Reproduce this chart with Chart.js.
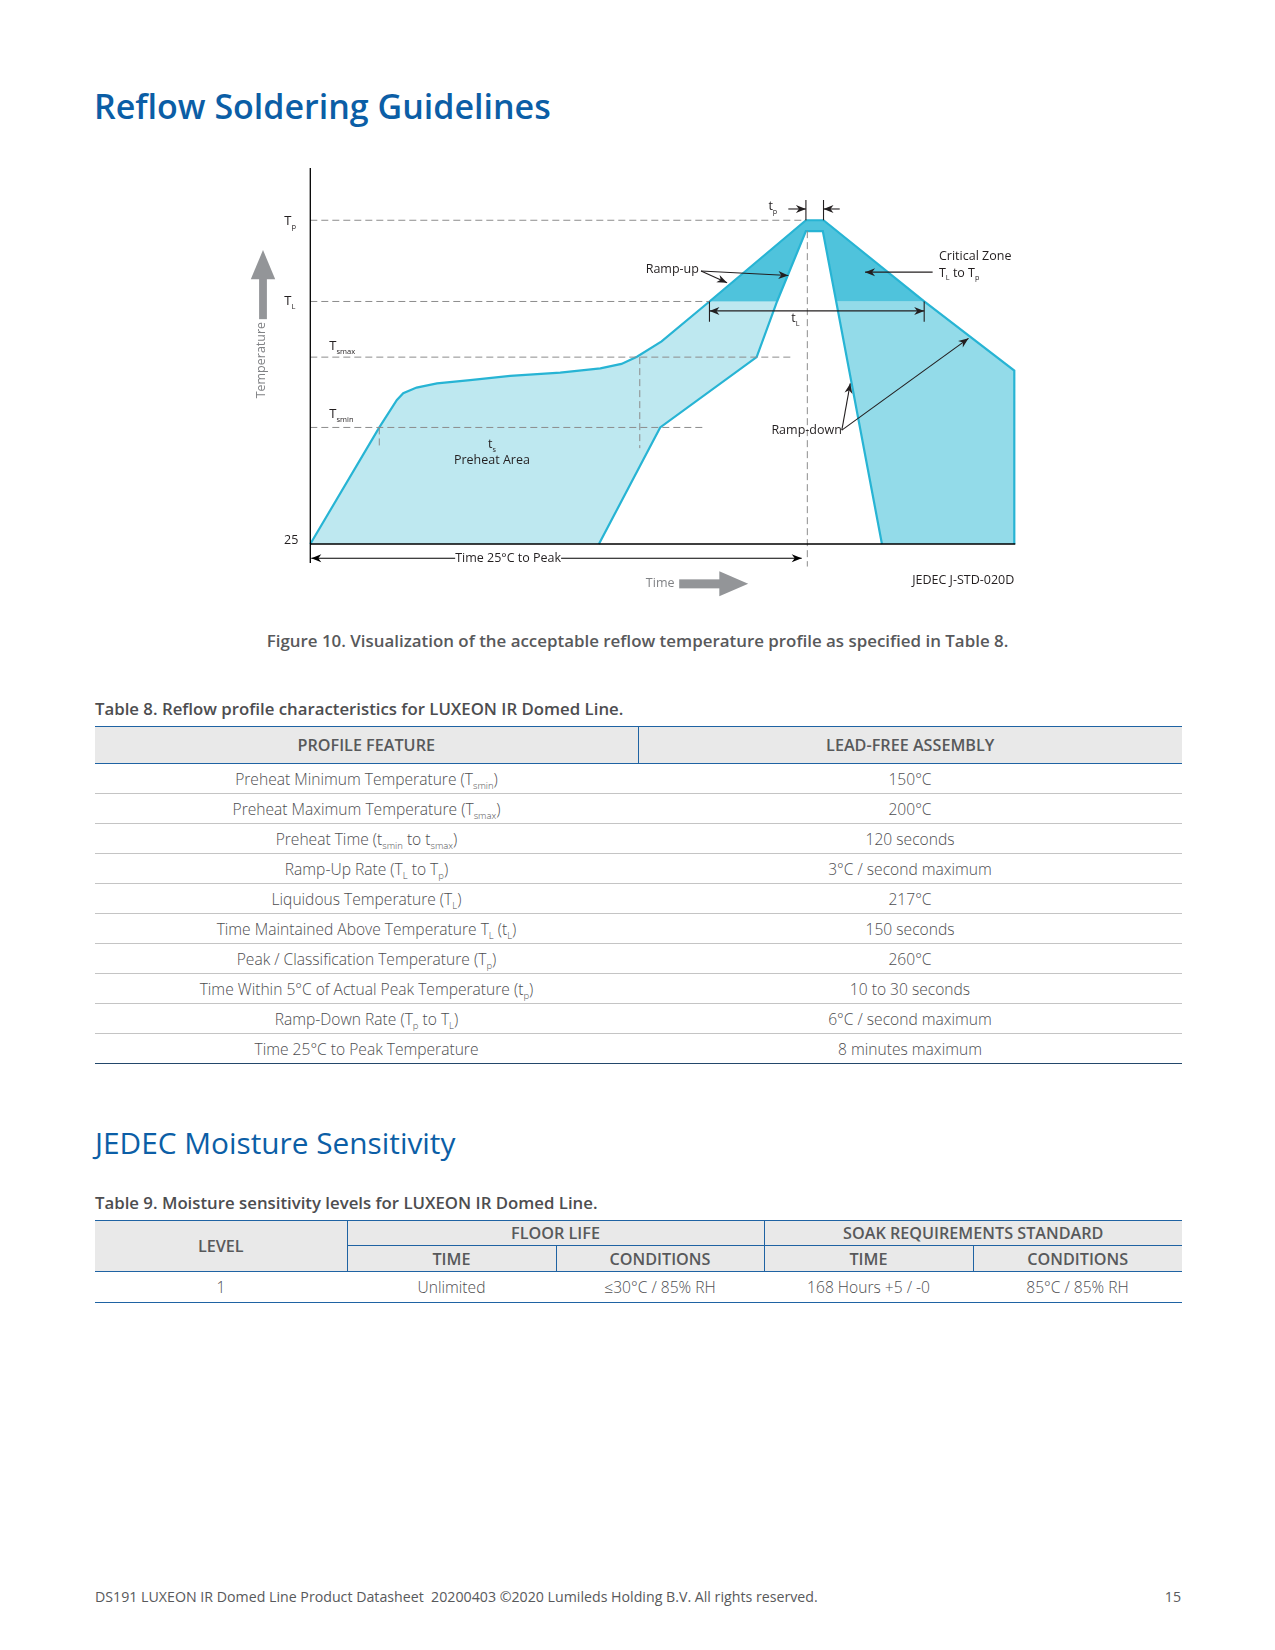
<!DOCTYPE html>
<html>
<head>
<meta charset="utf-8">
<script src="https://cdn.jsdelivr.net/npm/chart.js@4.4.1/dist/chart.umd.min.js"></script>
<style>
  body { margin: 0; background: #fff; font-family: "Open Sans", sans-serif; }
  .page { position: relative; width: 1275px; height: 1650px; overflow: hidden; }
  .t { position: absolute; white-space: nowrap; line-height: 1; margin: 0; }
  h1.t { left: 94px; top: 89px; font-size: 34px; font-weight: 600; color: #0b5ea6; }
  h2.t { left: 95px; top: 1128px; font-size: 29.8px; font-weight: 400; color: #0b5ea6; }
  .cap { font-size: 16.9px; font-weight: 600; color: #58595b; }
  .ttl { font-size: 16.8px; font-weight: 600; color: #4d4d4f; }
  .foot { font-size: 14.2px; color: #58595b; }
  #chartWrap { position: absolute; left: 240px; top: 150px; width: 800px; height: 470px; }
  table.tbl { position: absolute; border-collapse: collapse; table-layout: fixed; font-family: "Open Sans", sans-serif; }
  .tbl th { background: #e9e9e9; color: #58595b; font-weight: 600; font-size: 16.2px; padding: 0; text-align: center; }
  .tbl td { color: #4d4d4f; font-weight: 300; font-size: 15.6px; padding: 0; text-align: center; }
  .tbl sub { font-size: 9.5px; vertical-align: -4px; line-height: 0; }
  #t8 th { height: 36px; border-top: 1.5px solid #1f63a3; border-bottom: 1.5px solid #1f63a3; }
  #t8 th + th { border-left: 1px solid #1f63a3; }
  #t8 td { height: 29px; border-bottom: 1px solid #c4c4c4; }
  #t8 tr:last-child td { border-bottom: 1.5px solid #23486b; }
  #t9 th { border-top: 1.5px solid #1f63a3; border-bottom: 1.5px solid #1f63a3; }
  #t9 .r1 th { height: 24px; }
  #t9 .r2 th { height: 25px; }
  #t9 .vl { border-left: 1px solid #1f63a3; }
  #t9 td { height: 30px; border-bottom: 1.5px solid #1f63a3; }
</style>
</head>
<body>
<div class="page">
  <h1 class="t">Reflow Soldering Guidelines</h1>

  <div id="chartWrap"><canvas id="reflowChart" width="800" height="470"></canvas></div>

  <div class="t cap" style="left:0; width:1275px; text-align:center; top:633px;">Figure 10. Visualization of the acceptable reflow temperature profile as specified in Table 8.</div>

  <div class="t ttl" style="left:95px; top:701px;">Table 8. Reflow profile characteristics for LUXEON IR Domed Line.</div>
  <table id="t8" class="tbl" style="left:95px; top:726px; width:1087px;">
    <colgroup><col style="width:543px"><col style="width:544px"></colgroup>
    <tr><th>PROFILE FEATURE</th><th>LEAD-FREE ASSEMBLY</th></tr>
    <tr><td>Preheat Minimum Temperature (T<sub>smin</sub>)</td><td>150°C</td></tr>
    <tr><td>Preheat Maximum Temperature (T<sub>smax</sub>)</td><td>200°C</td></tr>
    <tr><td>Preheat Time (t<sub>smin</sub> to t<sub>smax</sub>)</td><td>120 seconds</td></tr>
    <tr><td>Ramp-Up Rate (T<sub>L</sub> to T<sub>p</sub>)</td><td>3°C / second maximum</td></tr>
    <tr><td>Liquidous Temperature (T<sub>L</sub>)</td><td>217°C</td></tr>
    <tr><td>Time Maintained Above Temperature T<sub>L</sub> (t<sub>L</sub>)</td><td>150 seconds</td></tr>
    <tr><td>Peak / Classification Temperature (T<sub>p</sub>)</td><td>260°C</td></tr>
    <tr><td>Time Within 5°C of Actual Peak Temperature (t<sub>p</sub>)</td><td>10 to 30 seconds</td></tr>
    <tr><td>Ramp-Down Rate (T<sub>p</sub> to T<sub>L</sub>)</td><td>6°C / second maximum</td></tr>
    <tr><td>Time 25°C to Peak Temperature</td><td>8 minutes maximum</td></tr>
  </table>

  <h2 class="t">JEDEC Moisture Sensitivity</h2>

  <div class="t ttl" style="left:95px; top:1195px;">Table 9. Moisture sensitivity levels for LUXEON IR Domed Line.</div>
  <table id="t9" class="tbl" style="left:95px; top:1220px; width:1087px;">
    <colgroup><col style="width:252px"><col style="width:209px"><col style="width:208px"><col style="width:209px"><col style="width:209px"></colgroup>
    <tr class="r1"><th rowspan="2">LEVEL</th><th colspan="2" class="vl">FLOOR LIFE</th><th colspan="2" class="vl">SOAK REQUIREMENTS STANDARD</th></tr>
    <tr class="r2"><th class="vl">TIME</th><th class="vl">CONDITIONS</th><th class="vl">TIME</th><th class="vl">CONDITIONS</th></tr>
    <tr><td>1</td><td>Unlimited</td><td>≤30°C / 85% RH</td><td>168 Hours +5 / -0</td><td>85°C / 85% RH</td></tr>
  </table>

  <div class="t foot" style="left:95px; top:1590px;">DS191 LUXEON IR Domed Line Product Datasheet&nbsp; 20200403 ©2020 Lumileds Holding B.V. All rights reserved.</div>
  <div class="t foot" style="left:1100px; width:81px; text-align:right; top:1590px;">15</div>
</div>

<script>
// schematic units: time 0-100 across the axis, temperature 0-100 up the axis (25°C at 0)
const levelNames = ['p', 'L', 'smax', 'smin'];
const levelTemps = [86.1, 64.5, 49.7, 31.0];
const levelEnds = [70.4, 56.7, 68.4, 55.8];

// outer edge of the profile window (upper ramp + peak + lower ramp down)
const outerTime = [0, 9.8, 12.3, 13.2, 15.1, 18.0, 22.7, 28.4, 35.5, 41.2, 44.2, 46.4, 49.9, 56.7, 70.4, 72.9, 87.2, 100, 100];
const outerTemp = [0, 31.0, 38.3, 40.1, 41.6, 42.7, 43.6, 44.7, 45.6, 46.7, 47.9, 49.8, 53.9, 64.5, 86.1, 86.1, 64.5, 46.1, 0];

// inner edge of the profile window
const innerTime = [41.0, 49.7, 63.4, 66.3, 70.4, 72.8, 74.7, 81.2];
const innerTemp = [0, 31.0, 49.7, 64.5, 83.2, 83.2, 64.5, 0];

// dashed markers dropped from the curve
const markTime = [9.8, 46.8, 70.6];
const markTop = [31.0, 49.7, 83.2];
const markBottom = [25.5, 25.5, -6.0];

const TL = levelTemps[1];
const pts = (xs, ys) => xs.map((x, i) => ({x: x, y: ys[i]}));
const outer = pts(outerTime, outerTemp);
const inner = pts(innerTime, innerTemp);
const oUp = outer.findIndex(p => p.y === TL);
const oDown = outer.findIndex((p, i) => i > oUp && p.y === TL);
const iUp = inner.findIndex(p => p.y === TL);
const iDown = inner.findIndex((p, i) => i > iUp && p.y === TL);

const lightZone = outer.slice(0, oUp + 1).concat(inner.slice(0, iUp + 1).reverse());
const darkZone = outer.slice(oUp, oDown + 1).concat(inner.slice(iUp, iDown + 1).reverse());
const coolZone = outer.slice(oDown).concat(inner.slice(iDown).reverse());

const CYAN = '#27b4d4';
const DASH = '#8c8c8c';

const guides = levelTemps.map((t, i) => ({
  data: [{x: 0, y: t}, {x: levelEnds[i], y: t}],
  borderColor: DASH, borderWidth: 1, borderDash: [7, 4], fill: false
})).concat(markTime.map((m, i) => ({
  data: [{x: m, y: markTop[i]}, {x: m, y: markBottom[i]}],
  borderColor: DASH, borderWidth: 1, borderDash: [7, 4], fill: false
})));

const datasets = guides.concat([
  {data: outer, borderColor: CYAN, borderWidth: 2.2, fill: false},
  {data: inner, borderColor: CYAN, borderWidth: 2.2, fill: false},
  {data: darkZone, borderWidth: 0, backgroundColor: '#4fc3dc', fill: 'shape'},
  {data: lightZone, borderWidth: 0, backgroundColor: '#bee8f0', fill: 'shape'},
  {data: coolZone, borderWidth: 0, backgroundColor: '#93dbe9', fill: 'shape'}
]).map(d => Object.assign({showLine: true, pointRadius: 0, tension: 0, clip: false}, d));

function arrowHead(ctx, x1, y1, x2, y2) {
  const a = Math.atan2(y2 - y1, x2 - x1);
  const L = 10, W = 4;
  const c = Math.cos(a), s = Math.sin(a);
  ctx.beginPath();
  ctx.moveTo(x2, y2);
  ctx.lineTo(x2 - L * c + W * s, y2 - L * s - W * c);
  ctx.lineTo(x2 - 0.7 * L * c, y2 - 0.7 * L * s);
  ctx.lineTo(x2 - L * c - W * s, y2 - L * s + W * c);
  ctx.closePath();
  ctx.fill();
}
function arrow(ctx, x1, y1, x2, y2, both) {
  ctx.beginPath(); ctx.moveTo(x1, y1); ctx.lineTo(x2, y2); ctx.stroke();
  arrowHead(ctx, x1, y1, x2, y2);
  if (both) arrowHead(ctx, x2, y2, x1, y1);
}
function subWidth(ctx, parts, size) {
  let w = 0;
  parts.forEach(p => { ctx.font = (p[1] ? size * 0.58 : size) + 'px "Open Sans"'; w += ctx.measureText(p[0]).width; });
  return w;
}
// parts: [[text, isSub], ...]; x is left edge, y is baseline
function subText(ctx, parts, x, y, size, align) {
  let cx = align === 'center' ? x - subWidth(ctx, parts, size) / 2 : x;
  ctx.textBaseline = 'alphabetic'; ctx.textAlign = 'left';
  parts.forEach(p => {
    ctx.font = (p[1] ? size * 0.58 : size) + 'px "Open Sans"';
    ctx.fillText(p[0], cx, p[1] ? y + size * 0.3 : y);
    cx += ctx.measureText(p[0]).width;
  });
}

const annotations = {
  id: 'annotations',
  afterDatasetsDraw(chart) {
    const {ctx, scales: {x, y}} = chart;
    const X = v => x.getPixelForValue(v), Y = v => y.getPixelForValue(v);
    const FS = 12.5;
    ctx.save();
    ctx.strokeStyle = '#000'; ctx.fillStyle = '#231f20'; ctx.lineWidth = 1.3;

    // axes
    ctx.beginPath();
    ctx.moveTo(X(0), Y(100)); ctx.lineTo(X(0), Y(0) + 19);
    ctx.moveTo(X(0), Y(0)); ctx.lineTo(X(100) + 1, Y(0));
    ctx.stroke();

    // y labels
    ctx.fillStyle = '#231f20';
    const lx = [X(0) - 26, X(0) - 26, X(0) + 19, X(0) + 19];
    const ly = [5, 4, -7, -9];
    levelNames.forEach((n, i) => subText(ctx, [['T', 0], [n, 1]], lx[i], Y(levelTemps[i]) + ly[i], 13));
    ctx.font = FS + 'px "Open Sans"'; ctx.textAlign = 'right'; ctx.textBaseline = 'alphabetic';
    ctx.fillText('25', X(0) - 12, Y(0));

    ctx.lineWidth = 1.1;
    ctx.strokeStyle = '#231f20';
    // t_p marker
    ctx.beginPath();
    ctx.moveTo(X(70.4), Y(86.1)); ctx.lineTo(X(70.4), Y(91.5));
    ctx.moveTo(X(72.9), Y(86.1)); ctx.lineTo(X(72.9), Y(91.5));
    ctx.stroke();
    arrow(ctx, X(67.9), Y(89.1), X(70.4), Y(89.1));
    arrow(ctx, X(75.2), Y(89.1), X(72.9), Y(89.1));
    subText(ctx, [['t', 0], ['p', 1]], X(65.7), Y(89.9) + 4.5, FS, 'center');

    // t_L marker
    ctx.beginPath();
    ctx.moveTo(X(56.7), Y(64.5)); ctx.lineTo(X(56.7), Y(59.1));
    ctx.moveTo(X(87.2), Y(64.5)); ctx.lineTo(X(87.2), Y(59.1));
    ctx.stroke();
    arrow(ctx, X(56.7), Y(62.0), X(87.2), Y(62.0), true);
    subText(ctx, [['t', 0], ['L', 1]], X(68.9), Y(60.2) + 4.5, FS, 'center');

    // ramp-up
    ctx.font = FS + 'px "Open Sans"'; ctx.textBaseline = 'middle'; ctx.textAlign = 'right';
    ctx.fillText('Ramp-up', X(55.2), Y(73.1));
    arrow(ctx, X(55.5), Y(72.6), X(59.2), Y(69.5));
    arrow(ctx, X(55.5), Y(72.6), X(67.9), Y(71.4));

    // critical zone
    ctx.textAlign = 'left';
    ctx.fillText('Critical Zone', X(89.3), Y(76.4));
    subText(ctx, [['T', 0], ['L', 1], [' to T', 0], ['p', 1]], X(89.3), Y(72.3) + 4.5, FS);
    arrow(ctx, X(88.4), Y(72.3), X(78.8), Y(72.3));

    // ramp-down
    ctx.font = FS + 'px "Open Sans"'; ctx.textBaseline = 'middle'; ctx.textAlign = 'right';
    ctx.fillText('Ramp-down', X(75.5), Y(30.2));
    arrow(ctx, X(75.5), Y(30.3), X(76.7), Y(42.7));
    arrow(ctx, X(75.5), Y(30.3), X(93.5), Y(54.7));

    // preheat
    subText(ctx, [['t', 0], ['s', 1]], X(25.8), Y(26.6) + 4.5, FS, 'center');
    ctx.font = FS + 'px "Open Sans"'; ctx.textAlign = 'center'; ctx.textBaseline = 'middle';
    ctx.fillText('Preheat Area', X(25.8), Y(22.3));

    // time 25C to peak
    ctx.strokeStyle = '#000'; ctx.fillStyle = '#000';
    arrow(ctx, X(69.8), Y(-3.8), X(0) + 1, Y(-3.8), true);
    const lbl = 'Time 25°C to Peak';
    ctx.font = FS + 'px "Open Sans"';
    const w = ctx.measureText(lbl).width;
    ctx.fillStyle = '#fff';
    ctx.fillRect(X(28.1) - w / 2, Y(-3.8) - 7, w, 14);
    ctx.fillStyle = '#231f20'; ctx.textAlign = 'center';
    ctx.fillText(lbl, X(28.1), Y(-3.8));

    // JEDEC label
    ctx.textAlign = 'right';
    ctx.fillText('JEDEC J-STD-020D', X(100), Y(-9.6));

    // gray direction arrows
    const G = '#939598';
    ctx.fillStyle = G;
    const ax = X(0) - 47.3;
    ctx.fillRect(ax - 3.9, Y(70.5), 7.8, Y(59.8) - Y(70.5));
    ctx.beginPath();
    ctx.moveTo(ax, Y(78.2)); ctx.lineTo(ax + 12.2, Y(70.4)); ctx.lineTo(ax - 12.2, Y(70.4)); ctx.closePath(); ctx.fill();
    const ty = Y(-10.6);
    ctx.fillRect(X(52.4), ty - 4.5, X(58.2) - X(52.4), 9);
    ctx.beginPath();
    ctx.moveTo(X(62.2), ty); ctx.lineTo(X(58.1), ty - 12.5); ctx.lineTo(X(58.1), ty + 12.5); ctx.closePath(); ctx.fill();

    ctx.fillStyle = '#808285';
    ctx.font = FS + 'px "Open Sans"'; ctx.textAlign = 'center'; ctx.textBaseline = 'middle';
    ctx.fillText('Time', X(49.7), ty);
    ctx.save();
    ctx.translate(ax - 2, Y(48.9));
    ctx.rotate(-Math.PI / 2);
    ctx.fillText('Temperature', 0, 0);
    ctx.restore();

    ctx.restore();
  }
};

new Chart(document.getElementById('reflowChart'), {
  type: 'scatter',
  data: {datasets: datasets},
  options: {
    responsive: false,
    devicePixelRatio: 1,
    animation: false,
    events: [],
    layout: {padding: {left: 70.3, top: 18, right: 25.7, bottom: 76}},
    scales: {
      x: {type: 'linear', min: 0, max: 100, display: false},
      y: {type: 'linear', min: 0, max: 100, display: false}
    },
    plugins: {legend: {display: false}, tooltip: {enabled: false}}
  },
  plugins: [annotations]
});
</script>
</body>
</html>
